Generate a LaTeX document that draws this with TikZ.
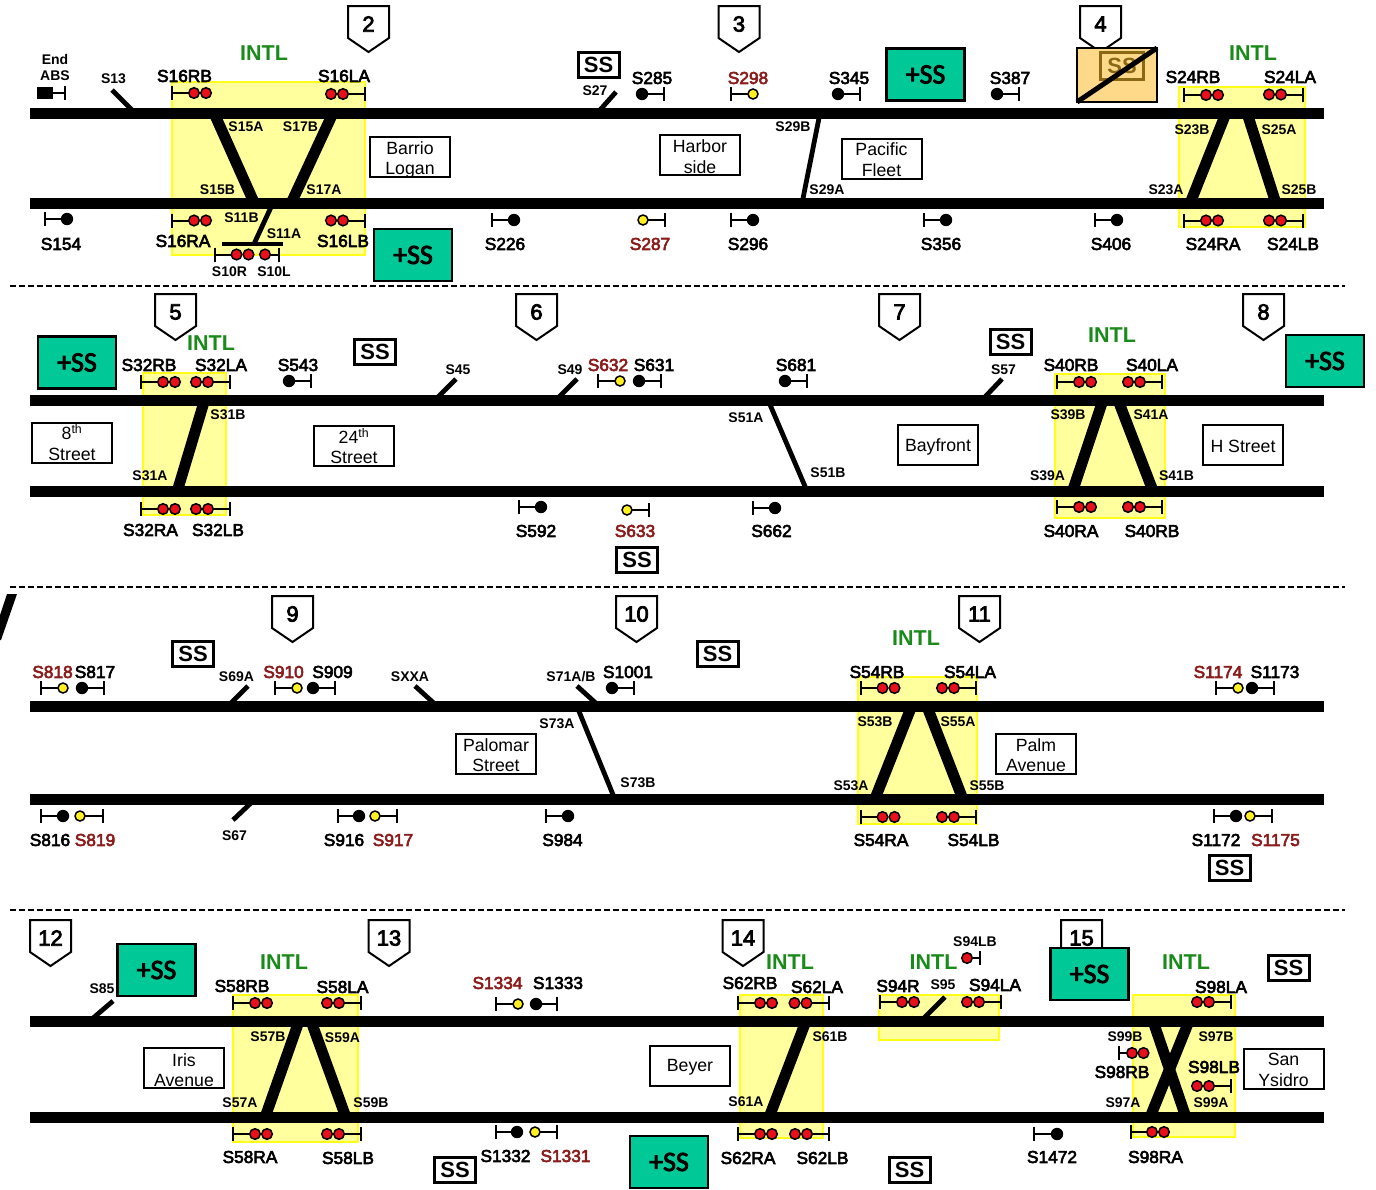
\documentclass[tikz,border=0pt]{standalone}
\usepackage{fontspec}
\setmainfont{Liberation Sans}
\newfontfamily\sigf[FakeBold=3.5]{Liberation Sans}
\newfontfamily\calf[FakeBold=3]{Carlito}
\definecolor{zonefill}{HTML}{FFFF9E}
\definecolor{zoneline}{HTML}{FFFF1A}
\definecolor{ssgreen}{HTML}{00C896}
\definecolor{dred}{HTML}{8B1C1C}
\definecolor{intl}{HTML}{1A8A1A}
\definecolor{lred}{HTML}{E8101A}
\definecolor{lyel}{HTML}{FFF020}
\definecolor{ssorange}{HTML}{FFD98A}
\definecolor{ssghost}{HTML}{8B6914}
\newcount\nidx
\tikzset{
  x=1pt,y=-1pt,
  track/.style={line width=11pt},
  xover/.style={line width=11pt},
  thinx/.style={line width=4.8pt},
  zone/.style={fill=zonefill,draw=zoneline,line width=2pt},
  dashsep/.style={line width=1.6pt,dash pattern=on 6pt off 3pt},
  siglabel/.style={inner sep=0pt,font=\fontsize{17.3}{20}\selectfont\sigf},
  smalllabel/.style={inner sep=0pt,font=\fontsize{14}{16}\selectfont\bfseries},
  intllabel/.style={inner sep=0pt,text=intl,font=\fontsize{21.5}{24}\selectfont\bfseries},
  station/.style={draw,fill=white,line width=2pt,minimum width=80pt,minimum height=40pt,inner sep=0pt},
  stationtext/.style={inner sep=0pt,align=center,font=\fontsize{17.7}{20.5}\selectfont},
  plusss/.style={draw,fill=ssgreen,line width=2.2pt,minimum width=78pt,minimum height=52pt,inner sep=0pt,font=\fontsize{28}{30}\selectfont\calf},
  ssbox/.style={draw,fill=white,line width=3pt,minimum width=41pt,minimum height=25pt,inner sep=0pt,font=\fontsize{22}{24}\selectfont\bfseries},
  numlabel/.style={inner sep=0pt,font=\fontsize{22}{24}\selectfont\sigf},
  lamp/.style={draw=black,line width=1.5pt},
  sigline/.style={line width=2pt},
}
\newcommand{\nn}{\global\advance\nidx by 1 }
\newcommand{\lab}[3]{\nn\node[siglabel] (t\the\nidx) at (#1,#2) {#3};}
\newcommand{\rlab}[3]{\nn\node[siglabel,text=dred] (t\the\nidx) at (#1,#2) {#3};}
\newcommand{\slab}[3]{\nn\node[smalllabel] (t\the\nidx) at (#1,#2) {#3};}
\newcommand{\intl}[2]{\nn\node[intllabel] (t\the\nidx) at (#1,#2) {INTL};}
\newcommand{\stn}[4]{\nn\node[station] (b\the\nidx) at (#1,#2) {};\node[stationtext] (t\the\nidx) at (#1,#2+#4) {#3};}
\newcommand{\pss}[2]{\nn\node[plusss] (t\the\nidx) at (#1,#2) {+SS};}
\newcommand{\sss}[2]{\nn\node[ssbox] (t\the\nidx) at (#1,#2) {SS};}
\newcommand{\zn}[4]{\draw[zone] (#1,#3) rectangle (#2,#4);}
% pentagon: centre x, top y, number
\newcommand{\penta}[3]{\draw[fill=white,line width=2pt] (#1-20.5,#2) -- (#1+20.5,#2) -- (#1+20.5,#2+32) -- (#1,#2+46) -- (#1-20.5,#2+32) -- cycle;
  \nn\node[numlabel] (t\the\nidx) at (#1,#2+18) {#3};}
% signal stem: bar x, stem end x, y
\newcommand{\stem}[3]{\draw[sigline] (#1,#3-7) -- (#1,#3+7) (#1,#3) -- (#2,#3);}
\newcommand{\R}[2]{\fill[lamp,fill=lred] (#1,#2) circle (5.3pt);}
\newcommand{\Y}[2]{\fill[lamp,fill=lyel] (#1,#2) circle (5pt);}
\newcommand{\K}[2]{\fill[black] (#1,#2) circle (6.2pt);}
% double red signals: bar left, lamps right / lamps left, bar right
\newcommand{\RR}[2]{\stem{#1}{#1+22}{#2}\R{#1+22}{#2}\R{#1+34}{#2}}
\newcommand{\LL}[2]{\stem{#1}{#1-22}{#2}\R{#1-22}{#2}\R{#1-34}{#2}}
\begin{document}
\begin{tikzpicture}
\useasboundingbox (0,0) rectangle (1376,1189);
\fill[white] (0,0) rectangle (1376,1189);
% yellow zones
\zn{172}{365}{82}{255}
\zn{1179}{1305}{87}{227}
\zn{143}{226}{373}{515}
\zn{1055}{1165}{374}{518}
\zn{858}{977}{677}{824}
\zn{233}{358}{995}{1142}
\zn{740}{823}{995}{1138}
\zn{879}{999}{995}{1040}
\zn{1133}{1235}{995}{1137}
% separators
\draw[dashsep] (10,286) -- (1345,286);
\draw[dashsep] (10,587) -- (1345,587);
\draw[dashsep] (10,910) -- (1345,910);
\fill (7,594) -- (17,594) -- (1,640) -- (0,640) -- (0,615) -- cycle;
% tracks
\foreach \yy in {113,203.5,400,491,706.5,799.5,1021,1117.5}{\draw[track] (30,\yy) -- (1324,\yy);}
% crossovers row 1
\draw[xover] (214,113) -- (254.5,203.5);
\draw[xover] (333,113) -- (291,203.5);
\draw[xover] (1226,113) -- (1190,203.5);
\draw[xover] (1247,113) -- (1276,203.5);
\draw[thinx] (820,113) -- (802,203.5);
\draw[thinx] (112,90) -- (132,110);
\draw[thinx] (616,92) -- (600,110);
\draw[thinx] (272,205) -- (254,244);
\draw[line width=4pt] (222,244) -- (283,244);
% crossovers row 2
\draw[xover] (204.6,400) -- (177.3,491);
\draw[thinx] (768,400) -- (807,491);
\draw[xover] (1103,400) -- (1072.6,491);
\draw[xover] (1118,400) -- (1153,491);
\draw[thinx] (456,379) -- (436,399);
\draw[thinx] (577,379) -- (557,399);
\draw[thinx] (1002,379) -- (983,399);
% crossovers row 3
\draw[thinx] (248,686) -- (228,706);
\draw[thinx] (415,686) -- (437,706);
\draw[thinx] (577,686) -- (599,706);
\draw[thinx] (577,706.5) -- (615,799.5);
\draw[xover] (911.5,706.5) -- (874.7,799.5);
\draw[xover] (927,706.5) -- (963,799.5);
\draw[thinx] (252,802) -- (233,820);
% crossovers row 4
\draw[thinx] (113,1001) -- (92,1019);
\draw[xover] (299,1021) -- (265,1117.5);
\draw[xover] (311,1021) -- (346,1117.5);
\draw[xover] (806,1021) -- (769,1117.5);
\draw[thinx] (945,997) -- (923,1019);
\draw[xover] (1153,1021) -- (1186,1117.5);
\draw[xover] (1189,1021) -- (1150,1117.5);
% pentagons
\penta{368.5}{6}{2}\penta{739}{6}{3}\penta{1100.5}{6}{4}
\penta{175.5}{294}{5}\penta{536.5}{294}{6}\penta{899.5}{294}{7}\penta{1263.5}{294}{8}
\penta{292.5}{596}{9}\penta{636.5}{596}{10}\penta{979.5}{596}{11}
\penta{50.5}{920}{12}\penta{389}{920}{13}\penta{743}{920}{14}\penta{1081.5}{920}{15}
% signals row 1
\fill (37,87) rectangle (53,99);
\stem{65}{53}{93}
\RR{172}{93}\LL{365}{94}
\stem{45}{67}{219}\K{67}{219}
\RR{172}{220.5}\LL{365}{220.5}
\stem{215}{236}{254.5}\R{236.5}{254.5}\R{248.5}{254.5}
\stem{279}{265}{254.5}\R{265}{254.5}
\stem{664}{642}{94}\K{642}{94}
\stem{731}{753}{94}\Y{753}{94}
\stem{860}{838}{94}\K{838}{94}
\stem{1019}{997}{94}\K{997}{94}
\stem{492}{514}{220}\K{514}{220}
\stem{665}{643}{220}\Y{643}{220}
\stem{731}{753}{220}\K{753}{220}
\stem{924}{946}{220}\K{946}{220}
\stem{1095}{1117}{220}\K{1117}{220}
\RR{1184}{95}\LL{1303}{94.5}
\RR{1184}{220.5}\LL{1303}{220.5}
% signals row 2
\RR{141}{382}\LL{230}{382}
\stem{311}{289}{381}\K{289}{381}
\stem{598}{620}{381}\Y{620}{381}
\stem{661}{639}{381}\K{639}{381}
\stem{807}{785}{381}\K{785}{381}
\RR{1057}{382}\LL{1162}{382}
\RR{141}{509}\LL{230}{509}
\stem{519}{541}{507}\K{541}{507}
\stem{649}{627}{510}\Y{627}{510}
\stem{753}{775}{508}\K{775}{508}
\RR{1057}{507}\LL{1162}{507}
% signals row 3
\stem{41}{63}{688}\Y{63}{688}
\stem{104}{82}{688}\K{82}{688}
\stem{275}{297}{688}\Y{297}{688}
\stem{335}{313}{688}\K{313}{688}
\stem{634}{612}{688}\K{612}{688}
\RR{860.5}{688}\LL{976}{688}
\stem{1216}{1238}{688}\Y{1238}{688}
\stem{1274}{1252}{688}\K{1252}{688}
\stem{41}{63}{816}\K{63}{816}
\stem{103}{80}{816}\Y{80}{816}
\stem{338}{359}{816}\K{359}{816}
\stem{397}{375}{816}\Y{375}{816}
\stem{546}{568}{816}\K{568}{816}
\RR{860.5}{817}\LL{976}{817}
\stem{1214}{1236}{816}\K{1236}{816}
\stem{1272}{1250}{816}\Y{1250}{816}
% signals row 4
\RR{233}{1003}\LL{361}{1003}
\stem{496}{518}{1004}\Y{518}{1004}
\stem{557}{536}{1004}\K{536}{1004}
\RR{738}{1003}\LL{828.5}{1003}
\stem{980}{967}{958}\R{967}{958}
\RR{880}{1002}\LL{1001}{1002}
\LL{1231}{1002}
\stem{1119}{1132}{1053}\R{1132}{1053}\R{1143.5}{1053}
\LL{1231}{1086}
\RR{233}{1134}\LL{361}{1134}
\stem{496}{517}{1132}\K{517}{1132}
\stem{557}{535}{1132}\Y{535}{1132}
\RR{738}{1134}\LL{829}{1134}
\stem{1034}{1057}{1134}\K{1057}{1134}
\stem{1131}{1152}{1132}\R{1152}{1132}\R{1164}{1132}
% stations
\stn{410}{157}{Barrio\\Logan}{3}
\stn{700}{155}{Harbor\\side}{1.5}
\stn{881.5}{159}{Pacific\\Fleet}{0.5}
\stn{72}{442.5}{8\textsuperscript{th}\\Street}{0}
\stn{354}{445.5}{24\textsuperscript{th}\\Street}{0.5}
\stn{938}{445}{Bayfront}{2}
\stn{1243}{445}{H Street}{1}
\stn{496}{754}{Palomar\\Street}{1}
\stn{1036}{754}{Palm\\Avenue}{1}
\stn{184}{1067.5}{Iris\\Avenue}{2.5}
\stn{690}{1066}{Beyer}{1}
\stn{1283.5}{1068.5}{San\\Ysidro}{1.5}
% +SS
\pss{413}{255}\pss{925.5}{74.5}
\pss{77}{362.5}\pss{1325}{361}
\pss{156.5}{970}\pss{1089.5}{974}\pss{669}{1162}
% SS
\sss{598.5}{65}\sss{375}{352}\sss{1010.5}{342}\sss{637}{559.5}
\sss{193}{654}\sss{717.5}{654}\sss{1229.5}{868}
\sss{1288.5}{968}\sss{455}{1170}\sss{909.5}{1170}
% crossed-out substation
\draw[fill=ssorange,line width=2pt] (1077,48) rectangle (1157,102);
\draw[line width=3pt,draw=ssghost] (1100.5,52.5) rectangle (1143.5,79);
\nn\node[inner sep=0pt,text=ssghost,font=\fontsize{22}{24}\selectfont\bfseries] (t\the\nidx) at (1122,65.5) {SS};
\draw[line width=5pt] (1077,102) -- (1157,48);
% INTL
\intl{264}{53}\intl{1253}{53}
\intl{211}{343}\intl{1112}{335}
\intl{916}{638}
\intl{284}{962}\intl{790}{962}\intl{933.5}{962}\intl{1186}{962}
% labels row 1
\slab{55}{59}{End}\slab{55}{76}{ABS}\slab{113.5}{79}{S13}
\lab{184.5}{76}{S16RB}\lab{344}{76}{S16LA}
\slab{246}{127}{S15A}\slab{300.5}{127}{S17B}\slab{217.5}{190}{S15B}\slab{324}{190}{S17A}
\slab{241.5}{218}{S11B}\slab{284}{234}{S11A}
\lab{183}{241}{S16RA}\lab{343}{241}{S16LB}\lab{61}{244}{S154}
\slab{229.5}{272}{S10R}\slab{274}{272}{S10L}
\slab{595}{91}{S27}\lab{652}{78}{S285}\rlab{748}{78}{S298}\lab{849}{78}{S345}\lab{1010}{78}{S387}
\slab{793}{127}{S29B}\slab{827}{190}{S29A}
\lab{505}{244}{S226}\rlab{650}{244}{S287}\lab{748}{244}{S296}\lab{941}{244}{S356}\lab{1111}{244}{S406}
\lab{1193}{77}{S24RB}\lab{1290}{77}{S24LA}
\slab{1192}{130}{S23B}\slab{1279}{130}{S25A}\slab{1166}{190}{S23A}\slab{1299}{190}{S25B}
\lab{1213}{244}{S24RA}\lab{1293}{244}{S24LB}
% labels row 2
\lab{149}{365}{S32RB}\lab{221}{365}{S32LA}\lab{298}{365}{S543}
\slab{458}{370}{S45}\slab{570}{370}{S49}
\rlab{608}{365}{S632}\lab{654}{365}{S631}\lab{796}{365}{S681}\slab{1003.5}{370}{S57}
\lab{1071}{365}{S40RB}\lab{1152}{365}{S40LA}
\slab{228}{415}{S31B}\slab{150}{476}{S31A}
\slab{746}{418}{S51A}\slab{828}{473}{S51B}
\slab{1068}{415}{S39B}\slab{1151}{415}{S41A}\slab{1047.5}{476}{S39A}\slab{1176.5}{476}{S41B}
\lab{150.5}{530}{S32RA}\lab{218}{530}{S32LB}
\lab{536}{531}{S592}\rlab{635}{531}{S633}\lab{771.5}{531}{S662}
\lab{1071}{531}{S40RA}\lab{1152}{531}{S40RB}
% labels row 3
\rlab{52.5}{672}{S818}\lab{95}{672}{S817}
\slab{236.5}{677}{S69A}\rlab{283.5}{672}{S910}\lab{332.5}{672}{S909}
\slab{410}{677}{SXXA}\slab{571}{677}{S71A/B}\lab{628}{672}{S1001}
\lab{877}{672}{S54RB}\lab{970}{672}{S54LA}
\rlab{1218}{672}{S1174}\lab{1275}{672}{S1173}
\slab{557}{724}{S73A}\slab{638}{783}{S73B}
\slab{875}{722}{S53B}\slab{958}{722}{S55A}\slab{851}{786}{S53A}\slab{987}{786}{S55B}
\lab{50}{840}{S816}\rlab{95}{840}{S819}\slab{234.5}{836}{S67}
\lab{344}{840}{S916}\rlab{393}{840}{S917}\lab{562.5}{840}{S984}
\lab{881}{840}{S54RA}\lab{973.5}{840}{S54LB}
\lab{1216}{840}{S1172}\rlab{1275.5}{840}{S1175}
% labels row 4
\slab{102}{989}{S85}
\lab{242}{986}{S58RB}\lab{342.5}{987}{S58LA}
\rlab{497.5}{983}{S1334}\lab{558}{983}{S1333}
\lab{750}{983}{S62RB}\lab{817}{987}{S62LA}
\lab{898}{986}{S94R}\slab{943}{985}{S95}\lab{995}{985}{S94LA}\slab{975}{942}{S94LB}
\lab{1221}{987}{S98LA}
\slab{268}{1037}{S57B}\slab{342.5}{1038}{S59A}\slab{240}{1103}{S57A}\slab{371}{1103}{S59B}
\slab{830}{1037}{S61B}\slab{746}{1102}{S61A}
\slab{1125}{1037}{S99B}\slab{1216}{1037}{S97B}\lab{1122}{1072}{S98RB}\lab{1214}{1067}{S98LB}
\slab{1123}{1103}{S97A}\slab{1211}{1103}{S99A}
\lab{250}{1157}{S58RA}\lab{348}{1158}{S58LB}
\lab{505.5}{1156}{S1332}\rlab{565.5}{1156}{S1331}
\lab{748}{1158}{S62RA}\lab{822.5}{1158}{S62LB}
\lab{1052}{1157}{S1472}\lab{1155.5}{1157}{S98RA}
\end{tikzpicture}
\end{document}
